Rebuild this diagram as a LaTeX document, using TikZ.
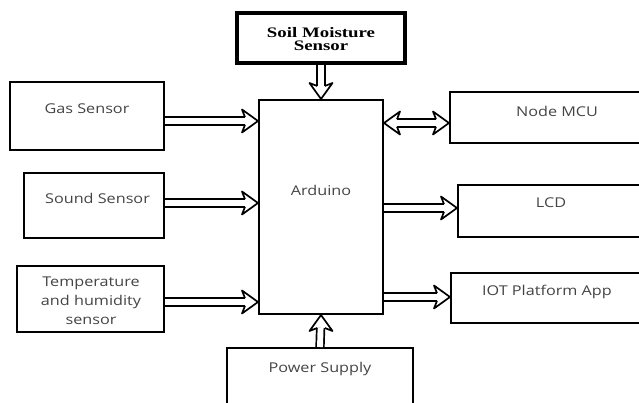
\documentclass[tikz,border=0pt]{standalone}
\usepackage{fontspec}
\setmainfont[FakeStretch=1.2]{Open Sans}
\newfontfamily\serifbold[FakeStretch=1.3]{Liberation Serif}
\usetikzlibrary{positioning}
\definecolor{txtgray}{HTML}{444444}

\newcommand\fathead[2]{%
  \begin{scope}[shift={(#1)}, rotate=#2]
    \draw[head] (-13,-3.8) -- (-16,-11.5) -- (0,0) -- (-16,11.5) -- (-13,3.8);
  \end{scope}}

\begin{document}
\begin{tikzpicture}[x=1pt,y=-1pt,
    box/.style={draw, line width=2pt, inner sep=0pt},
    txt/.style={text=txtgray, font=\fontsize{13.5}{16}\selectfont, align=center},
    head/.style={line width=1.7pt, line join=round},
    dbl/.style={double, double distance=5.9pt, line width=1.7pt, shorten >=13pt},
    dbltwo/.style={dbl, shorten <=13pt}]
  \clip (0,0) rectangle (639,403);
  \useasboundingbox (0,0) rectangle (639,403);
  \node[box, line width=3.2pt, minimum width=168pt, minimum height=50pt] (soil) at (321,38) {};
  \node[box, minimum width=124pt, minimum height=214pt] (ard) at (321,207) {};
  \node[box, minimum width=154pt, minimum height=68pt] (gas) at (87,116) {};
  \node[box, minimum width=140pt, minimum height=65pt] (sound) at (94,205.5) {};
  \node[box, minimum width=147pt, minimum height=66pt] (temp) at (90.5,299) {};
  \node[box, minimum width=200pt, minimum height=51pt] (mcu) at (550,117.5) {};
  \node[box, minimum width=192pt, minimum height=52pt] (lcd) at (554,211) {};
  \node[box, minimum width=199pt, minimum height=50pt] (iot) at (550.5,298) {};
  \node[box, minimum width=186pt, minimum height=62pt] (power) at (320,379) {};

  \node[font=\serifbold\bfseries\fontsize{14.5}{13}\selectfont, align=center] (soiltxt) at (321,39) {Soil Moisture\\Sensor};
  \node[txt] (ardtxt) at (321,190) {Arduino};
  \node[txt] (gastxt) at (87,109) {Gas Sensor};
  \node[txt] (soundtxt) at (97.5,198) {Sound Sensor};
  \node[txt, font=\fontsize{13.5}{19}\selectfont] (temptxt) at (91,301) {Temperature\\and humidity\\sensor};
  \node[txt] (mcutxt) at (557,111) {Node MCU};
  \node[txt] (lcdtxt) at (551,203) {LCD};
  \node[txt] (iottxt) at (547,292) {IOT Platform App};
  \node[txt] (powertxt) at (320,369) {Power Supply};

  \draw[dbl] (soil.south) -- (ard.north);
  \fathead{ard.north}{-90}
  \draw[dbl] (power.north) -- (ard.south);
  \fathead{ard.south}{90}
  \draw[dbl] ([yshift=-5pt]gas.east) coordinate (gasout) -- (gasout -| ard.west) coordinate (gasin);
  \fathead{gasin}{0}
  \draw[dbl] ([yshift=2.5pt]sound.east) coordinate (soundout) -- (soundout -| ard.west) coordinate (soundin);
  \fathead{soundin}{0}
  \draw[dbl] ([yshift=-3pt]temp.east) coordinate (tempout) -- (tempout -| ard.west) coordinate (tempin);
  \fathead{tempin}{0}
  \coordinate (mcuin) at ([yshift=-5.5pt]mcu.west);
  \draw[dbltwo] (mcuin -| ard.east) coordinate (ardmcu) -- (mcuin);
  \fathead{mcuin}{0}
  \fathead{ardmcu}{180}
  \coordinate (lcdin) at ([yshift=3pt]lcd.west);
  \draw[dbl] (lcdin -| ard.east) -- (lcdin);
  \fathead{lcdin}{0}
  \coordinate (iotin) at ([yshift=1pt]iot.west);
  \draw[dbl] (iotin -| ard.east) -- (iotin);
  \fathead{iotin}{0}
\end{tikzpicture}
\end{document}
